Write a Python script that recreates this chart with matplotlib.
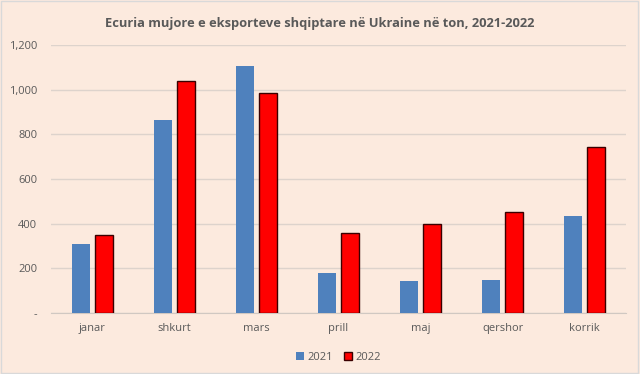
import matplotlib.pyplot as plt
import numpy as np
from matplotlib.ticker import FuncFormatter, MultipleLocator
from matplotlib.patches import Rectangle

months = ['janar', 'shkurt', 'mars', 'prill', 'maj', 'qershor', 'korrik']
exp_2021 = [309, 864, 1106, 179, 143, 148, 434]
exp_2022 = [349, 1039, 985, 358, 398, 452, 743]

bg = '#FCEADE'
txt = '#595959'
blue = '#4F81BD'
red = '#FF0000'

plt.rcParams['font.family'] = ['Open Sans', 'DejaVu Sans']

fig = plt.figure(figsize=(6.4, 3.74), dpi=100, facecolor=bg)
fig.patches.append(Rectangle((0.002, 0.003), 0.995, 0.993, transform=fig.transFigure,
                             fill=False, edgecolor='#D9D9D9', lw=1))
ax = fig.add_axes([0.080, 0.163, 0.898, 0.717])
ax.set_facecolor(bg)

x = np.arange(len(months))
w = 0.22
ax.bar(x - 0.14, exp_2021, w, color=blue, label='2021', zorder=3)
ax.bar(x + 0.14, exp_2022, w, color=red, edgecolor='#3A0000', lw=1, label='2022', zorder=3)

ax.set_xlim(-0.5, len(months) - 0.5)
ax.set_ylim(0, 1200)
ax.yaxis.set_major_locator(MultipleLocator(200))
ax.yaxis.set_major_formatter(FuncFormatter(lambda v, p: '-' if v == 0 else f'{int(v):,}'))
ax.set_xticks(x)
ax.set_xticklabels(months)
ax.grid(axis='y', color='#DDD3CC', lw=1, zorder=0)
for s in ['top', 'right', 'left']:
    ax.spines[s].set_visible(False)
ax.spines['bottom'].set_color('#D0C8C2')
ax.tick_params(axis='both', length=0, colors=txt, labelsize=8)
ax.tick_params(axis='x', pad=7)
ax.tick_params(axis='y', pad=10)

fig.suptitle('Ecuria mujore e eksporteve shqiptare në Ukraine në ton, 2021-2022',
             x=0.5, y=0.955, fontsize=9.3, fontweight='bold', color=txt)

ax.legend(loc='center', bbox_to_anchor=(0.5, -0.165), ncol=2, frameon=False,
          fontsize=8, labelcolor=txt, handlelength=0.7, handleheight=0.7,
          handletextpad=0.3, columnspacing=1.0)

plt.savefig('out.png', dpi=100, facecolor=bg)
